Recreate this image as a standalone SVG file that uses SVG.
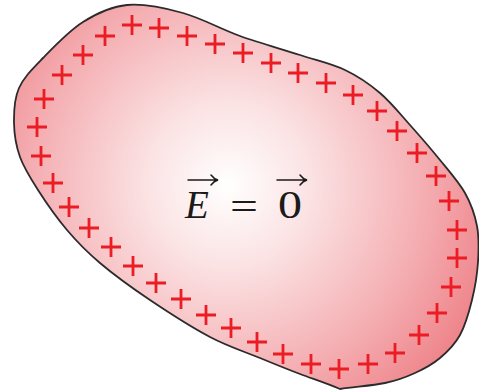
<svg xmlns="http://www.w3.org/2000/svg" xmlns:xlink="http://www.w3.org/1999/xlink" width="479" height="391" viewBox="0 0 479 391">
  <style>
    .outline { stroke: #2b2b2b; stroke-width: 1.8; }
    .plus { stroke: #ec1c24; stroke-width: 2.8; fill: none; }
    .math { font-family: "Liberation Serif", "Times New Roman", serif; fill: #1a1a1a; font-size: 39px; }
    .vec { stroke: #1a1a1a; stroke-width: 1.5; fill: none; stroke-linecap: round; }
  </style>
  <defs>
    <radialGradient id="fillGrad" gradientUnits="userSpaceOnUse" cx="228" cy="185" r="275">
      <stop offset="0" stop-color="#ffffff"/>
      <stop offset="0.3" stop-color="#fbe2e3"/>
      <stop offset="0.72" stop-color="#f4adb1"/>
      <stop offset="1" stop-color="#ee858b"/>
    </radialGradient>
    <path id="p" d="M-10,0H10M0,-10V10"/>
  </defs>

  <g id="conductor">
    <path class="outline" fill="url(#fillGrad)" d="M127,5 C143.7,3.5 164.2,7.8 183,13 C201.8,18.2 220.5,29 240,36 C259.5,43 282.5,49.3 300,55 C317.5,60.7 331.7,63.7 345,70 C358.3,76.3 369.2,83.8 380,93 C390.8,102.2 400,113.8 410,125 C420,136.2 430.8,148.7 440,160 C449.2,171.3 458.8,182 465,193 C471.2,204 474.8,214.5 477,226 C479.2,237.5 478.8,249.7 478,262 C477.2,274.3 475,287.8 472,300 C469,312.2 465.3,325.3 460,335 C454.7,344.7 447.5,351.7 440,358 C432.5,364.3 424.2,368.8 415,373 C405.8,377.2 397.5,380.5 385,383 C372.5,385.5 355,386.8 340,389 C326.7,383.3 313.3,379 300,374 C286.7,369 275,364.2 260,358 C245,351.8 228.3,346.7 210,337 C191.7,327.3 168.3,312.3 150,300 C131.7,287.7 113.8,274.7 100,263 C86.2,251.3 77.3,242.2 67,230 C56.7,217.8 45.8,202.2 38,190 C30.2,177.8 24,168.2 20,157 C16,145.8 14.2,134.5 14,123 C13.8,111.5 14.2,98.8 19,88 C23.8,77.2 32.3,69 43,58 C53.7,47 69,30.8 83,22 C97,13.2 110.3,6.5 127,5 Z"/>
  </g>

  <g id="charges" class="plus">
    <use xlink:href="#p" x="132" y="25"/>
    <use xlink:href="#p" x="159" y="28"/>
    <use xlink:href="#p" x="187" y="36"/>
    <use xlink:href="#p" x="215" y="44"/>
    <use xlink:href="#p" x="243" y="53"/>
    <use xlink:href="#p" x="271" y="63"/>
    <use xlink:href="#p" x="298" y="73"/>
    <use xlink:href="#p" x="326" y="83"/>
    <use xlink:href="#p" x="353" y="95"/>
    <use xlink:href="#p" x="377" y="111"/>
    <use xlink:href="#p" x="397" y="131"/>
    <use xlink:href="#p" x="417" y="153"/>
    <use xlink:href="#p" x="436" y="176"/>
    <use xlink:href="#p" x="449" y="201"/>
    <use xlink:href="#p" x="457" y="230"/>
    <use xlink:href="#p" x="457" y="258"/>
    <use xlink:href="#p" x="451" y="287"/>
    <use xlink:href="#p" x="437" y="313"/>
    <use xlink:href="#p" x="419" y="335"/>
    <use xlink:href="#p" x="395" y="353"/>
    <use xlink:href="#p" x="368" y="364"/>
    <use xlink:href="#p" x="339" y="369"/>
    <use xlink:href="#p" x="311" y="364"/>
    <use xlink:href="#p" x="283" y="354"/>
    <use xlink:href="#p" x="257" y="342"/>
    <use xlink:href="#p" x="231" y="328"/>
    <use xlink:href="#p" x="206" y="315"/>
    <use xlink:href="#p" x="181" y="299"/>
    <use xlink:href="#p" x="156" y="283"/>
    <use xlink:href="#p" x="133" y="266"/>
    <use xlink:href="#p" x="111" y="247"/>
    <use xlink:href="#p" x="89" y="228"/>
    <use xlink:href="#p" x="69" y="207"/>
    <use xlink:href="#p" x="53" y="183"/>
    <use xlink:href="#p" x="41" y="156"/>
    <use xlink:href="#p" x="37" y="127"/>
    <use xlink:href="#p" x="44" y="99"/>
    <use xlink:href="#p" x="62" y="75"/>
    <use xlink:href="#p" x="83" y="55"/>
    <use xlink:href="#p" x="105" y="36"/>
  </g>

  <g id="label">
    <text class="math" x="185" y="218" font-style="italic">E</text>
    <text class="math" x="230" y="220" textLength="28" lengthAdjust="spacingAndGlyphs">=</text>
    <text class="math" x="278" y="218" textLength="24" lengthAdjust="spacingAndGlyphs">0</text>
    <path class="vec" d="M188,180 H217 M211,175 Q214,179 218,180 Q214,181 211,185"/>
    <path class="vec" d="M277,180 H306 M300,175 Q303,179 307,180 Q303,181 300,185"/>
  </g>
</svg>
